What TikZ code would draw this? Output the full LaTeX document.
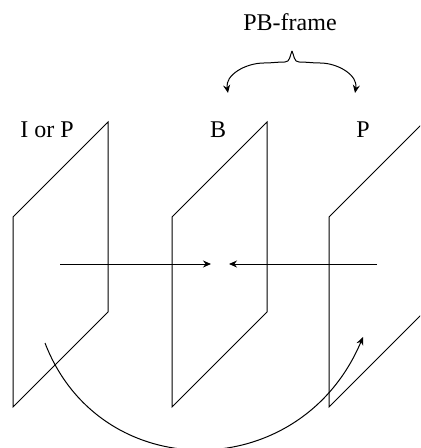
\documentclass[tikz,border=0pt]{standalone}
\usepackage{fontspec}
\setmainfont{Liberation Serif}
\usepackage{tikz}
\usetikzlibrary{arrows.meta}

\begin{document}
\begin{tikzpicture}[
    x=0.5pt, y=-0.5pt,
    frame/.style={draw, line width=0.5pt},
    lbl/.style={font=\fontsize{12}{14}\selectfont, inner sep=0pt},
    arrow/.style={-{Stealth[length=4pt, width=3.5pt]}, line width=0.5pt}
]

%% ── Canvas ───────────────────────────────────────────────────────────
\useasboundingbox (0,0) rectangle (420,448);
\clip (0,0) rectangle (420,448);

%% ── Frames (parallelograms, offset 158 apart) ────────────────────────
\foreach \x/\name in {13/fi, 172/fb, 329/fp} {
  \draw[frame] (\x,217) coordinate (\name-tl) -- (\x+95,122) coordinate (\name-tr)
               -- (\x+95,312) coordinate (\name-br) -- (\x,407) coordinate (\name-bl) -- cycle;
}

%% ── Labels ───────────────────────────────────────────────────────────
\node[lbl] (lip)  at (47,130)  {I or P};
\node[lbl] (lb)   at (218,130) {B};
\node[lbl] (lp)   at (363,130) {P};
\node[lbl] (lpb)  at (290,22)  {PB-frame};

%% ── Brace over B and P ───────────────────────────────────────────────
\coordinate (peak) at (292,51);
\coordinate (bk1)  at (285,62);
\coordinate (bk2)  at (299,62);
\coordinate (bh1)  at (264,63);
\coordinate (bh2)  at (320,63);
\coordinate (btoB) at (228,93);
\coordinate (btoP) at (355,93);
\draw[arrow] (peak) to[out=-115, in=0] (bk1) to[out=180, in=0] (bh1) to[out=180, in=100] (btoB);
\draw[arrow] (peak) to[out=-65, in=180] (bk2) to[out=0, in=180] (bh2) to[out=0, in=80] (btoP);

%% ── Prediction arrows into B ─────────────────────────────────────────
\coordinate (fwd-s) at (60,264);
\coordinate (fwd-e) at (211,264);
\coordinate (bwd-s) at (377,264);
\coordinate (bwd-e) at (229,264);
\draw[arrow] (fwd-s) -- (fwd-e);
\draw[arrow] (bwd-s) -- (bwd-e);

%% ── I/P to P (forward prediction) ────────────────────────────────────
\coordinate (ref-s) at (45,343);
\coordinate (ref-e) at (363,337);
\draw[arrow] (ref-s) .. controls (100,486) and (300,486) .. (ref-e);

\end{tikzpicture}
\end{document}
